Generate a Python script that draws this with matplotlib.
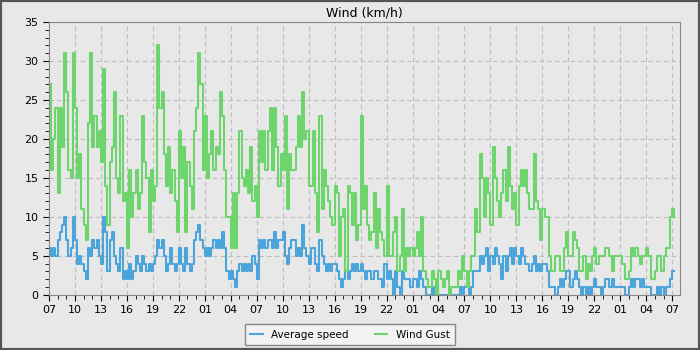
import numpy as np
import pandas as pd
import matplotlib
matplotlib.use('Agg')
import matplotlib.pyplot as plt
import matplotlib.dates as mdates
from matplotlib.patches import Rectangle

# 15 minute samples starting 07:00 (km/h)
gust = [27, 16, 20, 24, 13, 24, 19, 31, 26, 16, 15, 31,
        24, 15, 18, 11, 9, 7, 22, 31, 19, 23, 19, 21,
        17, 29, 14, 9, 17, 19, 26, 15, 13, 23, 12, 13,
        6, 16, 10, 13, 16, 11, 13, 23, 17, 15, 8, 16,
        12, 14, 32, 24, 26, 18, 14, 19, 13, 16, 12, 8,
        21, 15, 19, 8, 17, 14, 11, 21, 24, 31, 27, 16,
        23, 15, 18, 21, 16, 19, 18, 26, 23, 16, 10, 10,
        6, 13, 6, 13, 21, 15, 14, 16, 13, 19, 12, 14,
        10, 21, 17, 21, 16, 21, 24, 16, 24, 19, 14, 18,
        16, 23, 11, 18, 16, 16, 19, 23, 19, 26, 20, 21,
        14, 14, 21, 13, 8, 23, 11, 16, 14, 12, 10, 9,
        14, 13, 5, 10, 11, 3, 14, 13, 9, 13, 7, 9,
        23, 11, 14, 9, 7, 8, 13, 6, 11, 8, 7, 5,
        14, 5, 5, 8, 10, 3, 5, 11, 3, 6, 5, 6,
        5, 6, 8, 5, 10, 3, 2, 1, 1, 3, 2, 0,
        3, 2, 1, 2, 3, 0, 1, 1, 1, 3, 2, 5,
        3, 1, 3, 5, 5, 11, 8, 18, 15, 10, 15, 13,
        9, 19, 15, 12, 10, 13, 16, 12, 19, 14, 11, 13,
        9, 14, 16, 14, 16, 13, 11, 11, 18, 12, 11, 7,
        11, 10, 10, 5, 3, 3, 5, 5, 3, 3, 6, 8,
        5, 5, 8, 7, 6, 3, 3, 5, 2, 4, 3, 5,
        6, 4, 5, 5, 5, 6, 6, 5, 3, 5, 5, 5,
        5, 4, 2, 2, 3, 6, 5, 6, 5, 4, 5, 5,
        6, 5, 2, 2, 3, 5, 5, 3, 5, 6, 6, 10,
        11, 10]

speed = [6, 5, 6, 5, 7, 8, 9, 10, 7, 5, 6, 10,
         7, 4, 5, 4, 3, 2, 6, 5, 7, 6, 7, 5,
         4, 10, 8, 3, 7, 8, 5, 4, 3, 6, 2, 3,
         2, 4, 2, 3, 5, 4, 3, 5, 4, 3, 4, 3,
         4, 5, 7, 6, 7, 5, 3, 4, 6, 4, 3, 4,
         6, 4, 3, 6, 4, 3, 4, 7, 8, 9, 7, 6,
         5, 6, 5, 6, 7, 6, 7, 6, 8, 6, 3, 2,
         3, 2, 1, 3, 4, 3, 4, 3, 4, 3, 5, 4,
         2, 7, 6, 7, 6, 7, 7, 6, 8, 6, 7, 7,
         8, 5, 4, 6, 7, 7, 5, 6, 5, 9, 6, 5,
         4, 6, 6, 4, 3, 7, 5, 4, 3, 4, 3, 4,
         4, 3, 2, 1, 2, 3, 2, 3, 4, 3, 4, 3,
         4, 3, 2, 3, 3, 2, 3, 3, 2, 2, 1, 4,
         2, 3, 2, 0, 3, 1, 0, 3, 2, 2, 2, 1,
         2, 2, 1, 3, 2, 1, 0, 0, 0, 1, 0, 1,
         0, 0, 0, 0, 0, 0, 0, 0, 0, 0, 1, 0,
         1, 1, 0, 1, 3, 3, 3, 5, 4, 5, 6, 3,
         5, 4, 6, 5, 4, 2, 5, 3, 5, 6, 4, 6,
         5, 4, 6, 5, 4, 4, 3, 4, 5, 3, 4, 3,
         4, 4, 3, 1, 1, 1, 0, 1, 2, 1, 2, 3,
         3, 1, 2, 3, 2, 1, 0, 1, 0, 1, 0, 1,
         2, 1, 1, 0, 1, 2, 2, 1, 2, 1, 1, 1,
         1, 1, 0, 0, 1, 2, 1, 2, 2, 1, 2, 1,
         1, 1, 0, 0, 0, 1, 0, 1, 0, 1, 1, 2,
         3, 3]

start = pd.Timestamp('2024-03-01 07:00')
times = pd.date_range(start, periods=len(gust), freq='15min')

blue = '#4ba5da'
green = '#6ed56e'
bg = '#e8e8e8'

fig = plt.figure(figsize=(7, 3.5), dpi=100, facecolor=bg)
ax = fig.add_axes([0.07, 0.158, 0.9014, 0.779], facecolor=bg)

ax.plot(times, speed, drawstyle='steps-post', color=blue, lw=1.5, label='Average speed')
ax.plot(times, gust, drawstyle='steps-post', color=green, lw=1.5, label='Wind Gust')

ax.set_xlim(start, start + pd.Timedelta(hours=72.9))
ax.set_ylim(0, 35)
ax.set_yticks(range(0, 36, 5))
ax.yaxis.set_minor_locator(matplotlib.ticker.MultipleLocator(1))
ax.xaxis.set_major_locator(mdates.HourLocator(byhour=range(1, 24, 3)))
ax.xaxis.set_minor_locator(mdates.HourLocator())
ax.xaxis.set_major_formatter(mdates.DateFormatter('%H'))
ax.tick_params(which='both', direction='out', labelsize=8, colors='black')
ax.tick_params(which='major', length=4)
ax.tick_params(which='minor', length=3)

ax.grid(True, which='major', linestyle=(0, (4, 3)), color='#bdbdbd', lw=0.8)
ax.set_axisbelow(True)
for s in ax.spines.values():
    s.set_color('#888888')

ax.set_title('Wind (km/h)', fontsize=9, pad=4)

fig.legend(loc='lower center', bbox_to_anchor=(0.5, 0.0), ncol=2, fontsize=7.5,
           frameon=True, fancybox=False, edgecolor='#888888', facecolor='#f2f2f2',
           handlelength=1.2, columnspacing=2.5, borderpad=0.5, framealpha=1)

fig.patches.append(Rectangle((0, 0), 1, 1, transform=fig.transFigure,
                             fill=False, edgecolor='#555555', lw=3))

fig.savefig('out.png', dpi=100, facecolor=bg)
